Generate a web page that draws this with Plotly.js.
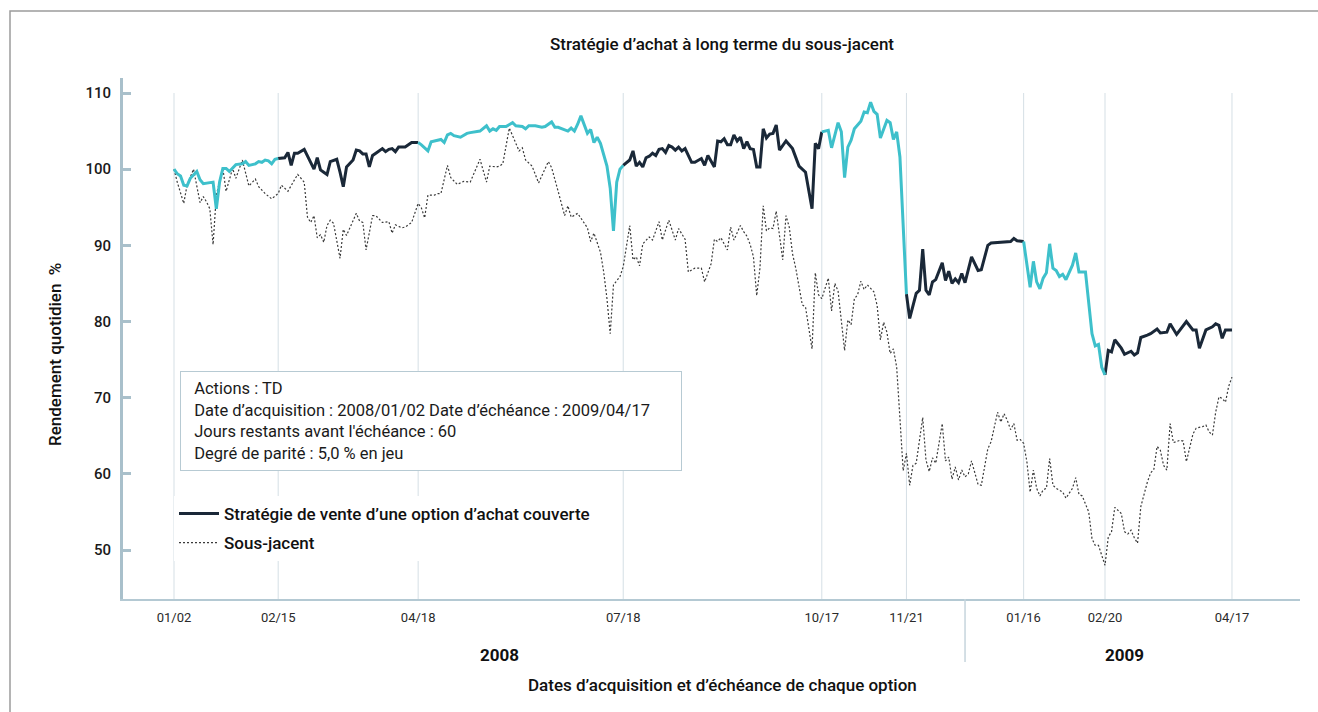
<!DOCTYPE html>
<html>
<head>
<meta charset="utf-8">
<script src="https://cdn.plot.ly/plotly-3.0.1.min.js"></script>
<style>html,body{margin:0;padding:0;background:#fff;}#chart{width:1318px;height:712px;}</style>
</head>
<body>
<div id="chart"></div>
<script>
// Trading-day index from 2008/01/02
const expiryDays = [0, 32, 75, 138, 199, 225, 261, 286, 325];
const expiryLabels = ["01/02", "02/15", "04/18", "07/18", "10/17", "11/21", "01/16", "02/20", "04/17"];
const yearBreakDay = 243;
const yearLabels = ["2008", "2009"];

const strategyDay = [0,1,2,3,4,5,7,8,9,10,12,13,14,15,16,17,18,19,21,22,23,25,26,27,28,29,30,31,32,33,34,35,36,37,38,40,41,43,44,45,46,47,48,50,51,52,53,54,55,56,57,58,59,60,61,62,64,65,66,67,68,69,71,72,73,75,76,78,79,80,82,83,84,85,86,88,90,91,93,94,96,97,98,99,100,102,104,105,107,108,109,111,113,114,116,117,118,120,121,122,123,124,125,127,128,129,130,131,132,133,134,135,136,137,138,140,141,142,143,144,145,146,147,148,149,150,151,152,153,154,155,156,157,159,160,162,163,164,166,167,168,169,170,171,172,173,174,175,176,177,178,179,180,181,182,183,184,185,186,188,190,192,194,196,197,198,199,201,202,204,205,206,207,208,209,211,212,213,214,215,216,217,219,220,221,222,223,225,226,228,229,230,231,232,233,234,236,237,238,239,240,241,242,243,245,247,248,250,251,257,258,259,261,263,264,265,266,267,268,269,270,271,272,273,274,276,277,278,280,281,282,283,284,285,286,287,288,289,291,292,294,295,296,297,299,300,302,303,305,306,308,309,311,313,314,315,317,319,320,321,322,323,325];
const strategyVal = [100.0,99.4,99.1,97.9,97.8,98.8,99.7,98.6,98.1,98.2,98.3,94.8,98.3,100.1,100.1,99.7,100.2,100.6,100.7,101.0,100.5,100.7,101.0,100.9,101.2,101.1,100.7,101.3,101.4,101.5,101.5,102.2,100.5,102.1,102.1,102.6,101.7,100.0,101.5,99.9,99.6,99.3,101.0,101.3,99.6,97.7,100.3,100.7,101.2,102.5,102.4,102.0,102.0,100.3,101.8,102.1,102.7,102.3,102.6,102.7,102.3,102.9,102.9,103.2,103.5,103.5,103.2,102.4,103.6,103.7,103.9,103.5,104.5,104.7,104.4,104.2,104.7,104.8,105.0,105.0,105.7,105.0,105.3,105.1,105.6,105.6,106.1,105.7,105.6,105.3,105.7,105.7,105.5,105.6,106.2,105.5,105.5,105.1,105.0,105.4,105.0,105.9,107.0,104.7,105.2,103.5,104.2,103.4,101.8,100.4,97.5,91.9,98.3,100.0,100.5,101.2,102.4,100.4,100.9,100.3,101.5,101.7,102.1,101.8,102.6,102.7,102.2,103.1,102.9,102.5,102.9,102.4,102.7,100.9,100.9,101.4,100.5,101.8,100.3,103.7,103.6,104.0,103.2,103.2,104.5,103.7,104.2,102.7,103.6,102.7,102.6,100.3,100.3,105.3,104.1,104.6,104.7,105.8,102.5,103.7,102.7,100.4,99.6,94.8,103.4,102.7,104.9,105.1,102.8,106.1,104.9,98.9,102.9,103.8,105.3,106.3,107.5,107.4,108.8,107.6,107.2,104.1,106.4,106.1,103.9,104.9,101.6,83.6,80.4,83.7,84.1,89.5,84.1,83.5,85.2,85.5,87.7,85.4,86.6,85.0,85.6,85.1,86.3,85.1,88.5,86.7,86.8,90.0,90.3,90.5,90.9,90.6,90.5,84.5,87.9,85.2,84.3,85.7,86.4,90.2,87.0,86.7,85.9,86.2,85.5,87.4,89.0,86.5,86.5,82.8,78.4,76.8,77.0,74.0,73.0,76.2,76.0,77.6,76.5,75.7,76.1,75.6,75.9,77.9,78.2,78.4,79.0,78.5,78.6,79.7,78.3,78.9,80.0,78.9,78.9,76.5,78.9,79.3,79.7,79.5,77.8,78.9,78.9];

const underlyingDay = [0,1,3,4,6,8,9,10,11,12,13,15,16,18,19,21,23,25,26,28,30,32,33,35,37,38,40,41,42,43,44,45,46,47,48,49,51,52,53,56,57,58,59,61,62,63,64,66,67,68,70,71,73,75,76,77,78,80,81,82,84,85,87,89,91,94,96,97,99,100,101,103,106,107,108,110,112,115,116,118,120,121,122,124,125,127,128,129,131,132,133,134,135,136,137,138,140,141,142,143,144,146,147,149,150,152,154,155,157,158,160,162,163,165,166,167,168,170,171,172,174,175,176,177,178,179,180,181,182,183,184,185,186,187,188,189,190,191,193,194,196,197,198,199,201,202,203,204,206,207,208,209,210,211,212,213,215,216,217,218,219,220,221,222,223,224,225,226,227,228,230,231,232,233,234,236,237,238,239,240,241,242,243,244,245,247,248,249,250,251,252,253,254,255,256,257,258,259,260,261,262,263,264,265,266,267,268,269,270,271,273,274,276,277,278,279,281,282,283,284,286,287,288,289,291,292,293,294,295,296,297,299,300,301,302,303,304,305,306,307,309,310,311,313,314,316,317,318,319,320,321,322,323,324,325];
const underlyingVal = [100.0,98.3,95.5,97.9,100.0,95.6,96.4,95.7,94.8,90.1,96.6,100.1,97.1,100.1,98.8,101.2,97.8,98.7,97.7,96.8,96.1,96.8,97.9,97.1,98.6,99.3,98.3,93.7,93.0,93.9,91.0,91.4,90.4,92.6,93.3,92.9,88.3,92.1,91.3,94.2,93.2,93.0,89.4,93.9,93.9,93.5,93.0,93.1,91.6,92.7,92.3,92.4,93.0,95.5,94.9,93.6,96.6,96.6,96.8,96.8,100.5,98.9,98.0,98.4,98.3,101.3,98.3,100.4,100.3,100.4,100.7,105.4,102.4,102.8,101.2,100.4,98.2,101.0,100.2,97.1,93.9,95.2,93.7,94.2,93.6,92.3,90.5,91.6,89.1,86.5,83.0,78.4,84.8,85.4,85.9,87.2,92.6,88.1,88.5,87.3,90.2,91.1,90.7,93.1,90.7,93.3,90.7,92.2,90.8,86.5,87.0,87.0,85.2,87.6,90.8,90.5,91.0,89.4,92.4,90.7,92.6,91.8,91.2,90.1,88.5,83.4,87.0,95.2,91.9,92.3,92.2,94.5,91.3,88.1,93.9,92.4,88.9,87.0,82.2,81.9,76.4,86.4,83.5,83.0,85.7,81.4,85.0,84.0,76.2,80.2,79.6,83.0,83.5,85.3,84.2,84.8,83.9,82.1,77.6,79.9,78.6,75.8,76.4,74.0,67.3,60.4,62.7,58.5,61.1,61.4,67.4,61.8,60.3,62.1,61.4,66.6,61.7,62.2,59.3,60.9,59.2,60.5,59.6,60.0,61.7,58.6,58.5,61.1,63.3,64.2,66.0,68.1,66.8,67.9,67.0,65.8,66.6,64.4,64.5,64.0,61.6,57.6,60.5,58.1,57.1,57.9,58.1,62.0,58.5,58.1,57.6,56.8,58.1,59.5,57.3,57.1,55.0,51.5,50.6,50.6,48.0,51.7,52.4,55.6,54.8,52.4,52.1,52.6,51.6,50.9,55.7,58.9,60.1,60.6,63.6,63.1,61.1,60.5,66.6,64.1,64.4,64.3,61.6,65.2,66.0,66.2,66.4,65.5,65.1,68.1,70.1,69.9,69.4,71.5,72.7];

const infoLines = [
  "Actions : TD",
  "Date d’acquisition : 2008/01/02 Date d’échéance : 2009/04/17",
  "Jours restants avant l'échéance : 60",
  "Degré de parité : 5,0 % en jeu"
];

// Option periods drawn in cyan: (expiry[0]-expiry[1]), (expiry[2]-expiry[3]), ...
function inCyan(d, strict) {
  for (let k = 0; k + 1 < expiryDays.length; k += 2) {
    const a = expiryDays[k], b = expiryDays[k + 1];
    if (strict ? (d > a && d < b) : (d >= a && d <= b)) return true;
  }
  return false;
}
const cyanVal = strategyVal.map((v, i) => inCyan(strategyDay[i], false) ? v : null);
const navyVal = strategyVal.map((v, i) => inCyan(strategyDay[i], true) ? null : v);

const FONT = 'Roboto, "Open Sans", "DejaVu Sans", sans-serif';
const yMin = 43.57, yMax = 111.97;

const traces = [
  {
    x: underlyingDay, y: underlyingVal, type: 'scatter', mode: 'lines',
    name: 'Sous-jacent', legendgroup: 'b', legendrank: 2,
    line: {color: '#3a3a3a', width: 1.2, dash: '2px,2px'},
    hoverinfo: 'skip'
  },
  {
    x: strategyDay, y: navyVal, type: 'scatter', mode: 'lines',
    name: 'Stratégie de vente d’une option d’achat couverte', legendgroup: 'a', legendrank: 1,
    line: {color: '#1a2838', width: 3}, connectgaps: false,
    hoverinfo: 'skip'
  },
  {
    x: strategyDay, y: cyanVal, type: 'scatter', mode: 'lines',
    name: 'cyan', showlegend: false,
    line: {color: '#3ec0cb', width: 3}, connectgaps: false,
    hoverinfo: 'skip'
  }
];

const px2paperX = p => (p - 123) / 1177;
const px2paperY = p => (599 - p) / 521;

const shapes = expiryDays.map(d => ({
  type: 'line', xref: 'x', yref: 'y', x0: d, x1: d, y0: yMin, y1: 110,
  line: {color: '#d5dfe5', width: 1}, layer: 'below'
}));
shapes.push({
  type: 'line', xref: 'x', yref: 'paper', x0: yearBreakDay, x1: yearBreakDay,
  y0: 0, y1: -0.121, line: {color: '#c6d5dd', width: 1.5}
});
shapes.push({
  type: 'rect', xref: 'paper', yref: 'paper',
  x0: px2paperX(10), x1: px2paperX(1330), y0: px2paperY(11), y1: px2paperY(730),
  line: {color: '#9c9c9c', width: 1.5}, fillcolor: 'rgba(0,0,0,0)', layer: 'below'
});

const layout = {
  width: 1318, height: 712,
  margin: {l: 123, r: 18, t: 78, b: 113},
  paper_bgcolor: '#ffffff', plot_bgcolor: '#ffffff',
  font: {family: FONT, color: '#1a1a1a'},
  title: {
    text: 'Stratégie d’achat à long terme du sous-jacent',
    font: {family: FONT, size: 17, color: '#111', weight: 500},
    xref: 'container', x: 722 / 1318, xanchor: 'center',
    yref: 'container', y: 1 - 44 / 712, yanchor: 'middle'
  },
  showlegend: true,
  legend: {
    x: px2paperX(174), y: px2paperY(496), xanchor: 'left', yanchor: 'top',
    bgcolor: '#ffffff', borderwidth: 0, traceorder: 'grouped', tracegroupgap: 4,
    itemwidth: 40,
    font: {family: FONT, size: 17, color: '#111', weight: 500}
  },
  xaxis: {
    range: [-15.67, 345.9], tickmode: 'array', tickvals: expiryDays, ticktext: expiryLabels,
    showgrid: false, zeroline: false, showline: true, linecolor: '#b4c9d3', linewidth: 2,
    ticks: 'outside', ticklen: 5, tickcolor: 'rgba(0,0,0,0)',
    tickfont: {family: FONT, size: 13, color: '#2a2a2a'}, fixedrange: true
  },
  yaxis: {
    range: [yMin, yMax], tickmode: 'array', tickvals: [50, 60, 70, 80, 90, 100, 110],
    showgrid: false, zeroline: false, showline: true, linecolor: '#a9c0cb', linewidth: 3,
    ticks: 'inside', ticklen: 8, tickwidth: 3, tickcolor: '#a9c0cb',
    ticklabelstandoff: 6,
    tickfont: {family: FONT, size: 15, color: '#1a1a1a', weight: 500}, fixedrange: true
  },
  shapes: shapes,
  annotations: [
    {
      text: infoLines.map(s => '&nbsp;&nbsp;' + s).join('<br>'), xref: 'paper', yref: 'paper',
      x: px2paperX(180), y: px2paperY(371), xanchor: 'left', yanchor: 'top',
      align: 'left', valign: 'middle', showarrow: false,
      width: 490, height: 88, borderpad: 5, borderwidth: 1,
      bordercolor: '#b7cad3', bgcolor: '#ffffff',
      font: {family: FONT, size: 16.5, color: '#1a1a1a'}
    },
    {
      text: yearLabels[0], xref: 'paper', yref: 'paper', x: px2paperX(499), y: px2paperY(655),
      xanchor: 'center', yanchor: 'middle', showarrow: false,
      font: {family: FONT, size: 17, color: '#111', weight: 700}
    },
    {
      text: yearLabels[1], xref: 'paper', yref: 'paper', x: px2paperX(1124), y: px2paperY(655),
      xanchor: 'center', yanchor: 'middle', showarrow: false,
      font: {family: FONT, size: 17, color: '#111', weight: 700}
    },
    {
      text: 'Dates d’acquisition et d’échéance de chaque option', xref: 'paper', yref: 'paper',
      x: px2paperX(722), y: px2paperY(685), xanchor: 'center', yanchor: 'middle', showarrow: false,
      font: {family: FONT, size: 17, color: '#111', weight: 500}
    },
    {
      text: 'Rendement quotidien  %', xref: 'paper', yref: 'paper',
      x: px2paperX(55), y: px2paperY(355), xanchor: 'center', yanchor: 'middle', showarrow: false,
      textangle: -90,
      font: {family: FONT, size: 17, color: '#111', weight: 500}
    }
  ]
};

Plotly.newPlot('chart', traces, layout, {displayModeBar: false, staticPlot: true});
</script>
</body>
</html>
